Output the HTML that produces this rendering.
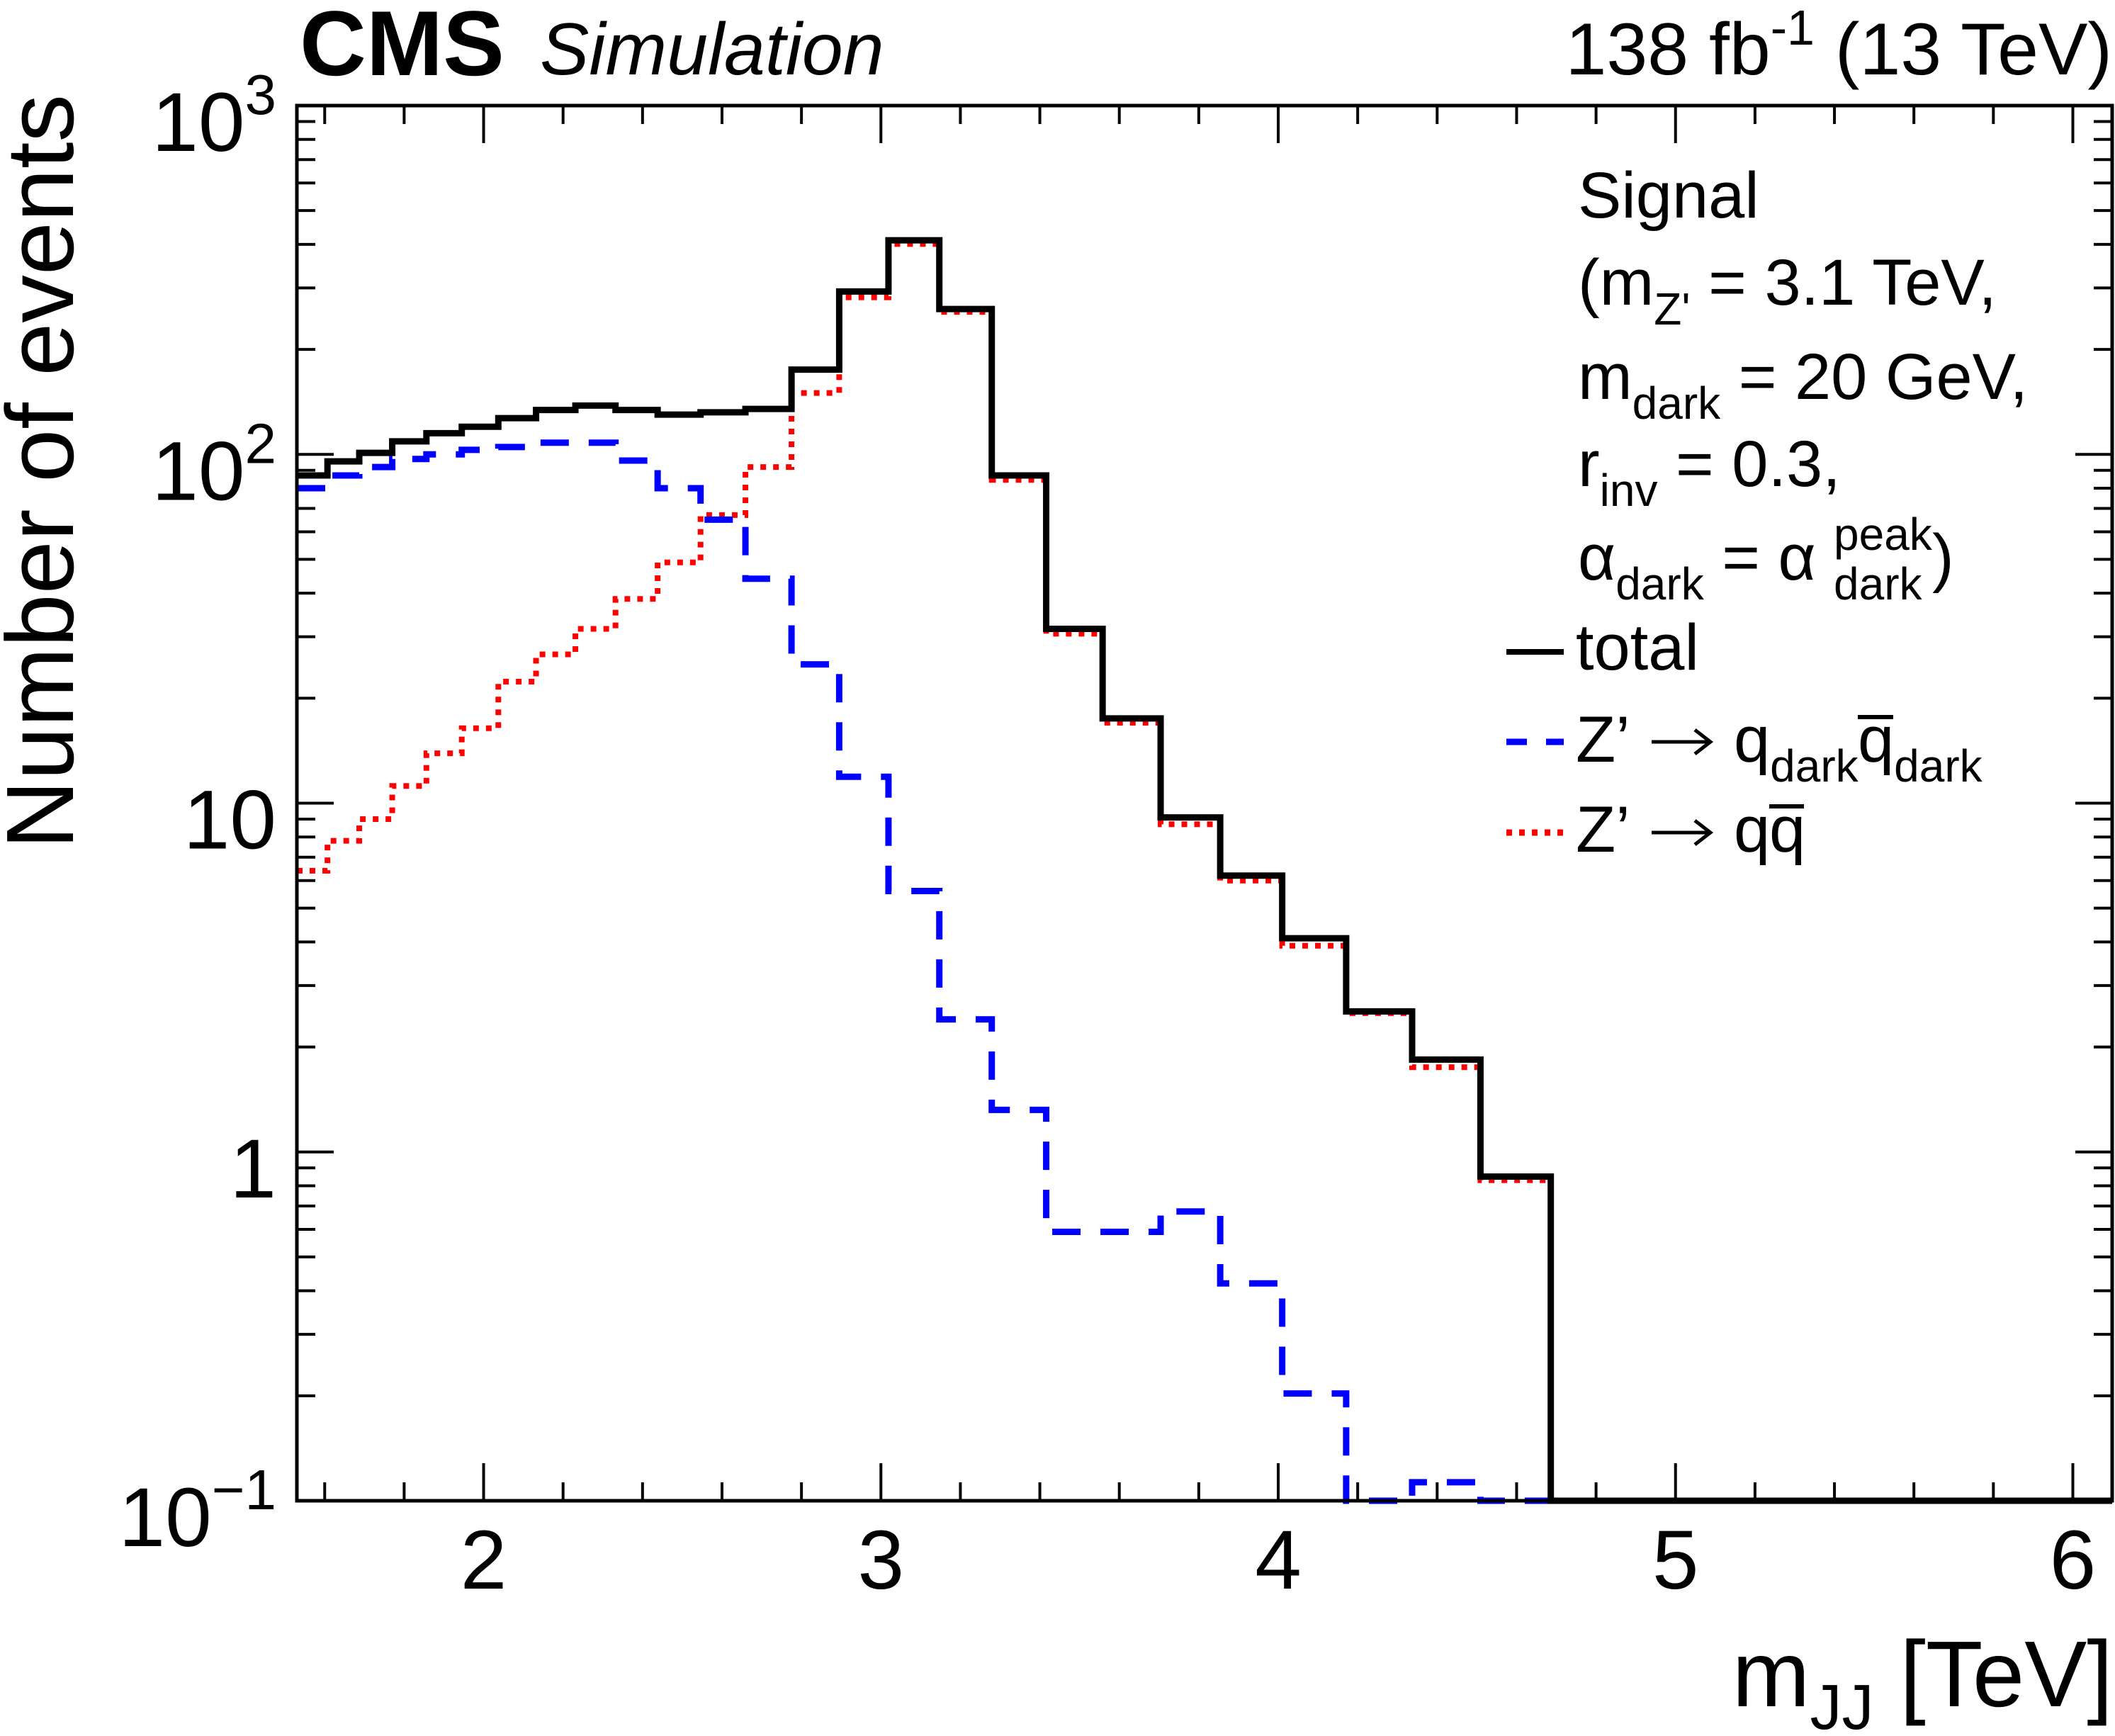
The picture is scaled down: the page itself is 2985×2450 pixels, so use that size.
<!DOCTYPE html>
<html><head><meta charset="utf-8"><style>
html,body{margin:0;padding:0;background:#fff;}
svg{display:block;font-family:"Liberation Sans",Arial,sans-serif;}
</style></head><body>
<svg id="chart" width="2985" height="2450" viewBox="0 0 2985 2450" xmlns="http://www.w3.org/2000/svg">
<rect width="2985" height="2450" fill="#fff"/>
<defs><clipPath id="plotclip"><rect x="414" y="144" width="2572" height="1980"/></clipPath></defs>
<g id="ticks"></g>
<g id="series" clip-path="url(#plotclip)"></g>
<rect x="419" y="149" width="2562" height="1969" fill="none" stroke="#000" stroke-width="5"/>
<g id="labels" font-size="118"></g>

<text x="423" y="106" font-size="130" font-weight="bold">CMS</text>
<text x="762" y="105" font-size="104" font-style="italic">Simulation</text>
<text x="2981" y="105" font-size="104" text-anchor="end">138 fb<tspan dy="-42" font-size="70">-1</tspan><tspan dy="42"> (13 TeV)</tspan></text>

<text transform="translate(103,133) rotate(-90)" text-anchor="end" font-size="135">Number of events</text>
<text x="2982" y="2408" text-anchor="end" font-size="132">m<tspan dy="32" font-size="90">JJ</tspan><tspan dy="-32"> [TeV]</tspan></text>

<g font-size="92">
<text x="2227" y="307">Signal</text>
<text x="2227" y="430">(m<tspan dy="28" font-size="64">Z'</tspan><tspan dy="-28"> = 3.1 TeV,</tspan></text>
<text x="2227" y="563">m<tspan dy="28" font-size="64">dark</tspan><tspan dy="-28"> = 20 GeV,</tspan></text>
<text x="2227" y="686">r<tspan dy="28" font-size="64">inv</tspan><tspan dy="-28"> = 0.3,</tspan></text>
<text x="2227" y="818">α<tspan dy="28" font-size="64">dark</tspan><tspan dy="-28"> = α</tspan></text>
<text x="2588" y="776" font-size="64">peak</text>
<text x="2588" y="846" font-size="64">dark</text>
<text x="2727" y="818">)</text>
</g>
<g font-size="92">
<g>
<line x1="2126" y1="920" x2="2207" y2="920" stroke="#000" stroke-width="8"/>
<text x="2224" y="945">total</text></g>
<g>
<line x1="2126" y1="1047" x2="2207" y2="1047" stroke="#0000ff" stroke-width="9" stroke-dasharray="29,27"/>
<text x="2224" y="1075">Z’</text>
<line x1="2331" y1="1047" x2="2413" y2="1047" stroke="#000" stroke-width="5"/>
<polyline points="2392,1030 2414,1047 2392,1064" fill="none" stroke="#000" stroke-width="5"/>
<text x="2447" y="1075">q<tspan dy="28" font-size="64">dark</tspan></text>
<text x="2622" y="1075">q<tspan dy="28" font-size="64">dark</tspan></text>
<line x1="2622" y1="1012" x2="2672" y2="1012" stroke="#000" stroke-width="6"/></g>
<g>
<line x1="2126" y1="1175" x2="2207" y2="1175" stroke="#ff0000" stroke-width="9" stroke-dasharray="8,10"/>
<text x="2224" y="1202">Z’</text>
<line x1="2331" y1="1175" x2="2413" y2="1175" stroke="#000" stroke-width="5"/>
<polyline points="2392,1158 2414,1175 2392,1192" fill="none" stroke="#000" stroke-width="5"/>
<text x="2447" y="1202">q</text>
<text x="2497" y="1202">q</text>
<line x1="2497" y1="1138" x2="2546" y2="1138" stroke="#000" stroke-width="6"/></g>
</g>
</svg>
<script>
const binEdges = [1.530,1.607,1.687,1.770,1.856,1.945,2.037,2.132,2.231,2.332,2.438,2.546,2.659,2.775,2.895,3.019,3.147,3.279,3.416,3.558,3.704,3.854,4.010,4.171,4.337,4.509,4.686,4.869,5.058,5.253,5.455,5.663,5.877,6.099];
const totalValues = [87,95.5,101,109,115,120,127,134,138,134,130,132,135,175,293,411,261,87,31.6,17.5,9.1,6.2,4.1,2.53,1.84,0.85,0,0,0,0,0,0,0];
const darkValues = [80,87,92,97,100,103,105,108,108,96,80,65,44,25,11.9,5.6,2.4,1.32,0.59,0.59,0.675,0.42,0.203,0.09,0.113,0.09,0,0,0,0,0,0,0];
const qqValues = [6.4,7.8,9.0,11.2,13.9,16.4,22.3,26.7,31.6,38.5,49,67,92,150,282,401,256,84.5,30.6,17,8.7,6.0,3.9,2.5,1.75,0.83,0,0,0,0,0,0,0];
const xTickValues = [2,3,4,5,6];
const xTickLabels = ["2","3","4","5","6"];
const yDecades = [-1,0,1,2,3];

const NS = "http://www.w3.org/2000/svg";
const X0=419, X1=2981, Y0=149, Y1=2118, XMIN=1.530, XMAX=6.099, LMIN=-1, LMAX=3;
function xs(v){return X0+(v-XMIN)*(X1-X0)/(XMAX-XMIN);}
function ys(v){if(v<=0) return Y1; let l=Math.log10(v); if(l<LMIN) l=LMIN; return Y0+(LMAX-l)*(Y1-Y0)/(LMAX-LMIN);}
function mk(tag,attrs,parent){const e=document.createElementNS(NS,tag);for(const k in attrs)e.setAttribute(k,attrs[k]);parent.appendChild(e);return e;}

const series=document.getElementById('series');
function stepPath(vals){
  let d="M"+xs(binEdges[0])+","+ys(vals[0]);
  for(let i=0;i<vals.length;i++){
    const y=ys(vals[i]);
    if(i>0) d+=" L"+xs(binEdges[i])+","+y;
    d+=" L"+xs(binEdges[i+1])+","+y;
  }
  return d;
}
const pq=mk('path',{d:stepPath(qqValues.slice(0,26)),fill:'none',stroke:'#ff0000','stroke-width':8,'stroke-dasharray':'8,10'},series);


const pd=mk('path',{d:stepPath(darkValues.slice(0,26)),fill:'none',stroke:'#0000ff','stroke-width':9,'stroke-dasharray':'40,28'},series);


const pt=mk('path',{d:stepPath(totalValues),fill:'none',stroke:'#000','stroke-width':9},series);



const ticks=document.getElementById('ticks');
const tickStyle={stroke:'#000','stroke-width':4};
for(let v=1.6; v<=6.0001; v+=0.2){
  const major=Math.abs(v-Math.round(v))<1e-6;
  const L=major?53:26, x=xs(v);
  const t1=mk('line',Object.assign({x1:x,x2:x,y1:Y1,y2:Y1-L},tickStyle),ticks);
  
  
  const t2=mk('line',Object.assign({x1:x,x2:x,y1:Y0,y2:Y0+L},tickStyle),ticks);
  
  
}
for(let d=LMIN; d<LMAX; d++){
  for(let m=1;m<10;m++){
    const v=m*Math.pow(10,d), y=ys(v), L=(m===1)?52:26;
    const a=mk('line',Object.assign({x1:X0,x2:X0+L,y1:y,y2:y},tickStyle),ticks);
    
    
    const b=mk('line',Object.assign({x1:X1,x2:X1-L,y1:y,y2:y},tickStyle),ticks);
    
    
  }
}
const labels=document.getElementById('labels');
xTickValues.forEach((v,i)=>{
  const t=mk('text',{x:xs(v),y:2242,'text-anchor':'middle'},labels);
  
  
  t.textContent=xTickLabels[i];
});
yDecades.forEach(d=>{
  const y=ys(Math.pow(10,d))+64;
  const t=mk('text',{x:390,y:y,'text-anchor':'end'},labels);
  
  
  if(d===0){t.textContent="1";}
  else if(d===1){t.textContent="10";}
  else{
    t.textContent="10";
    const s=mk('tspan',{dy:-52,'font-size':80},t);
    s.textContent=(d<0?"−":"")+Math.abs(d);
  }
});
</script>
</body></html>
